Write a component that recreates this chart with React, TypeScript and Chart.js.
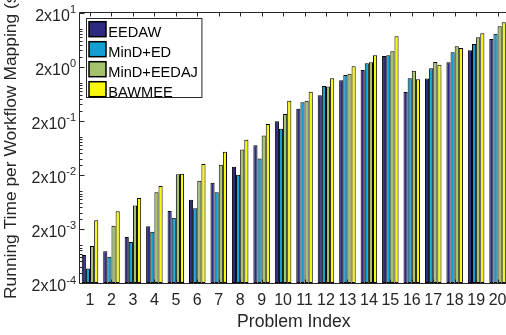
import React, { useEffect, useRef } from 'react';
import { Chart, registerables } from 'chart.js';

Chart.register(...registerables);

// Problem indices on the x axis
const problems = ['1', '2', '3', '4', '5', '6', '7', '8', '9', '10', '11', '12', '13', '14', '15', '16', '17', '18', '19', '20'];

// Running time per workflow mapping for each algorithm
const eedaw = [6.6e-4, 7.7e-4, 1.42e-3, 2.23e-3, 4.3e-3, 6.9e-3, 1.43e-2, 2.82e-2, 7.0e-2, 0.195, 0.333, 0.59, 1.12, 1.73, 3.14, 0.68, 1.2, 2.4, 4.0, 6.47];
const mindEd = [3.7e-4, 6.1e-4, 1.15e-3, 1.78e-3, 3.2e-3, 4.8e-3, 9.5e-3, 2.0e-2, 4.0e-2, 0.142, 0.438, 0.875, 1.4, 2.3, 3.24, 1.22, 1.86, 3.68, 5.24, 8.11];
const mindEedaj = [9.7e-4, 2.29e-3, 5.4e-3, 9.5e-3, 2.04e-2, 1.56e-2, 3.07e-2, 5.9e-2, 0.106, 0.266, 0.468, 0.86, 1.47, 2.4, 3.84, 1.68, 2.43, 4.75, 6.96, 11.1];
const bawmee = [2.88e-3, 4.23e-3, 7.45e-3, 1.24e-2, 2.1e-2, 3.17e-2, 5.35e-2, 8.9e-2, 0.174, 0.467, 0.687, 1.22, 2.03, 3.24, 7.26, 1.17, 2.17, 4.42, 8.26, 13.2];

const seriesNames = ['EEDAW', 'MinD+ED', 'MinD+EEDAJ', 'BAWMEE'];
const seriesColors = ['#2e2a82', '#119fd4', '#a4c26c', '#f8f80e'];

// Major y ticks are 2x10^n
const yTickExponents = [-4, -3, -2, -1, 0, 1];
const Y_MIN = 2e-4;
const Y_MAX = 20;

const X_TITLE = 'Problem Index';
const Y_TITLE = 'Running Time per Workflow Mapping (s)';

const FONT = "'Liberation Sans', Arial, Helvetica, sans-serif";
const TEXT = '#262626';

const CANVAS_W = 512;
const CANVAS_H = 335;

const axesPlugin = {
  id: 'matlabAxes',
  afterDatasetsDraw(chart: any) {
    const { ctx, chartArea } = chart;
    const { left, right, top, bottom } = chartArea;
    const xs = chart.scales.x;
    const ys = chart.scales.y;
    ctx.save();

    // axis box (left, top, bottom)
    ctx.strokeStyle = TEXT;
    ctx.lineWidth = 1;
    const L = Math.floor(left) + 0.5;
    const T = Math.floor(top) + 0.5;
    const B = Math.floor(bottom) + 0.5;
    ctx.beginPath();
    ctx.moveTo(L, B);
    ctx.lineTo(L, T);
    ctx.lineTo(right, T);
    ctx.moveTo(L, B);
    ctx.lineTo(right, B);
    ctx.stroke();

    // x ticks, inward on top and bottom
    ctx.beginPath();
    problems.forEach((_, i) => {
      const x = Math.round(xs.getPixelForValue(i)) + 0.5;
      ctx.moveTo(x, T);
      ctx.lineTo(x, T + 4);
      ctx.moveTo(x, B);
      ctx.lineTo(x, B - 4);
    });
    ctx.stroke();

    // y major and minor ticks
    ctx.beginPath();
    for (let n = -4; n <= 1; n++) {
      for (let k = 1; k <= 9; k++) {
        const v = k * Math.pow(10, n);
        if (v < Y_MIN * 0.999 || v > Y_MAX * 1.001) continue;
        const y = Math.round(ys.getPixelForValue(v)) + 0.5;
        const len = k === 2 ? 5 : 3;
        ctx.moveTo(L, y);
        ctx.lineTo(L + len, y);
      }
    }
    ctx.stroke();

    // y tick labels: 2x10^n
    ctx.fillStyle = TEXT;
    ctx.textBaseline = 'alphabetic';
    yTickExponents.forEach((n) => {
      const y = ys.getPixelForValue(2 * Math.pow(10, n));
      const base = '2x10';
      const exp = String(n);
      ctx.font = `16px ${FONT}`;
      const wb = ctx.measureText(base).width;
      ctx.font = `11px ${FONT}`;
      const we = ctx.measureText(exp).width;
      const xr = 76;
      ctx.textAlign = 'left';
      ctx.font = `16px ${FONT}`;
      ctx.fillText(base, xr - we - wb, y + 8.4);
      ctx.font = `11px ${FONT}`;
      ctx.fillText(exp, xr - we, y + 0.5);
    });

    // x tick labels
    ctx.font = `16px ${FONT}`;
    ctx.textAlign = 'center';
    problems.forEach((p, i) => {
      ctx.fillText(p, xs.getPixelForValue(i), 304.5);
    });

    // x axis title
    ctx.font = `17.6px ${FONT}`;
    ctx.fillText(X_TITLE, (left + right) / 2, 326.5);

    // y axis title, reading upward from near the bottom of the plot
    ctx.save();
    ctx.font = `17.4px ${FONT}`;
    ctx.translate(15.5, 299);
    ctx.rotate(-Math.PI / 2);
    ctx.textAlign = 'left';
    ctx.fillText(Y_TITLE, 0, 0);
    ctx.restore();

    // legend
    ctx.font = `14.6px ${FONT}`;
    let maxW = 0;
    seriesNames.forEach((s) => { maxW = Math.max(maxW, ctx.measureText(s).width); });
    const bx = 86.5;
    const by = 18.5;
    const bw = 108.3 + maxW + 4 - bx;
    const bh = 79;
    ctx.fillStyle = '#ffffff';
    ctx.fillRect(bx, by, bw, bh);
    ctx.strokeStyle = TEXT;
    ctx.lineWidth = 1;
    ctx.strokeRect(bx, by, bw, bh);
    seriesNames.forEach((s, i) => {
      const y0 = 21.7 + i * 20;
      ctx.fillStyle = seriesColors[i];
      ctx.fillRect(89, y0, 17, 15);
      ctx.strokeStyle = '#000000';
      ctx.lineWidth = 1.5;
      ctx.strokeRect(89, y0, 17, 15);
      ctx.fillStyle = '#000000';
      ctx.textAlign = 'left';
      ctx.fillText(s, 108.3, y0 + 15);
    });

    ctx.restore();
  },
};

export default function App() {
  const canvasRef = useRef<HTMLCanvasElement | null>(null);

  useEffect(() => {
    const canvas = canvasRef.current;
    if (!canvas) return;
    const all = [eedaw, mindEd, mindEedaj, bawmee];
    const chart = new Chart(canvas, {
      type: 'bar',
      data: {
        labels: problems,
        datasets: all.map((d, i) => ({
          label: seriesNames[i],
          data: d,
          backgroundColor: seriesColors[i],
          borderColor: '#000000',
          borderWidth: 1,
          borderSkipped: false,
          categoryPercentage: 0.77,
          barPercentage: 1.0,
          base: Y_MIN,
        })),
      },
      options: {
        responsive: false,
        animation: false,
        devicePixelRatio: 1,
        layout: {
          padding: { left: 79.3, top: 12.5, right: CANVAS_W - 508.3, bottom: CANVAS_H - 283 },
        },
        plugins: {
          legend: { display: false },
          tooltip: { enabled: false },
          title: { display: false },
        },
        scales: {
          x: { type: 'category', display: false, offset: true, grid: { display: false } },
          y: { type: 'logarithmic', display: false, min: Y_MIN, max: Y_MAX },
        },
      },
      plugins: [axesPlugin],
    } as any);
    return () => chart.destroy();
  }, []);

  return (
    <div style={{ position: 'fixed', left: 0, top: 0, width: 506, height: 335, overflow: 'hidden', background: '#ffffff' }}>
      <canvas ref={canvasRef} width={CANVAS_W} height={CANVAS_H} style={{ width: CANVAS_W, height: CANVAS_H, display: 'block' }} />
    </div>
  );
}
